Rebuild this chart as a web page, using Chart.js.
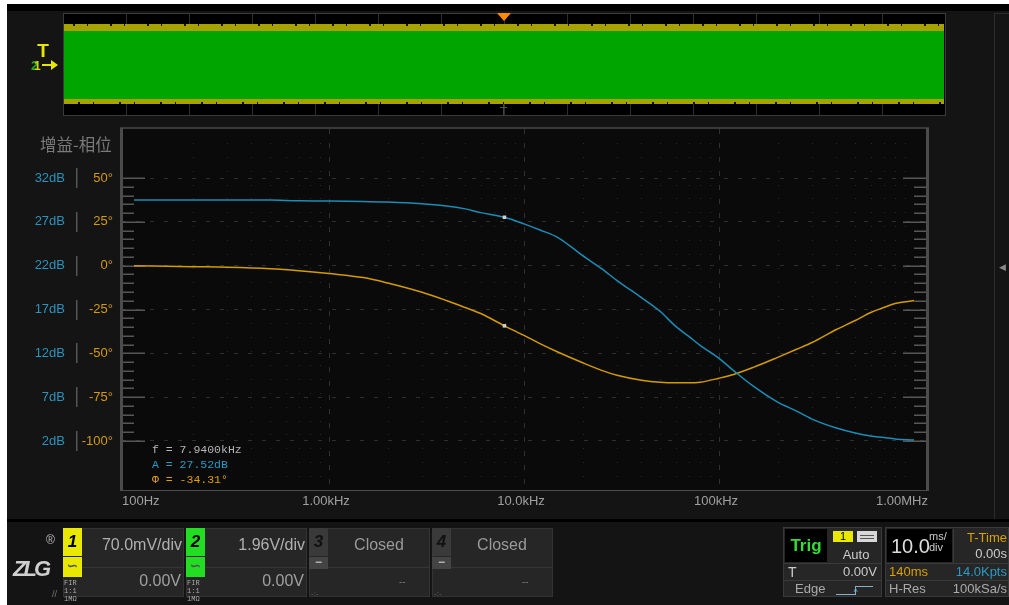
<!DOCTYPE html>
<html>
<head>
<meta charset="utf-8">
<script src="https://cdn.jsdelivr.net/npm/chart.js"></script>
<style>
body{margin:0;width:1009px;height:605px;overflow:hidden;position:relative;background:#141414;font-family:"Liberation Sans",Arial,sans-serif}
.a{position:absolute;box-sizing:border-box;white-space:nowrap}
#c{position:absolute;left:0;top:0}
</style>
</head>
<body>
<canvas id="c" width="1009" height="605"></canvas>
<script>
// gain / phase sweep
var freqs = [100, 200, 300, 500, 700, 1000, 1500, 2000, 3000, 4000, 5000, 6000, 7940,
  10000, 12000, 15000, 20000, 25000, 30000, 40000, 50000, 60000, 70000, 80000,
  100000, 120000, 150000, 200000, 250000, 300000, 400000, 500000, 600000, 700000, 800000, 1000000];
var gainDb = [29.50, 29.50, 29.50, 29.48, 29.40, 29.38, 29.33, 29.25, 29.05, 28.82, 28.48, 28.05, 27.52,
  26.77, 26.09, 25.18, 23.14, 21.66, 20.30, 18.36, 16.77, 15.07, 13.93, 12.91,
  11.43, 9.95, 8.25, 6.43, 5.41, 4.50, 3.48, 2.91, 2.57, 2.40, 2.23, 2.11];
var phaseDeg = [0, -0.57, -0.85, -1.70, -2.84, -4.5, -6.8, -9.9, -15.2, -19.9, -23.9, -27.3, -34.31,
  -39.8, -44.3, -49.4, -55.4, -59.7, -62.5, -65.3, -66.5, -66.8, -66.8, -66.5,
  -64.2, -61.9, -58.0, -52.3, -47.7, -43.8, -36.4, -31.3, -26.7, -23.9, -21.6, -19.9];
var markerFreq = 7940;

var gainTicks = [2, 7, 12, 17, 22, 27, 32];
var phaseTicks = [-100, -75, -50, -25, 0, 25, 50];
var xTicks = [100, 1000, 10000, 100000, 1000000];
var xTickLabels = ['100Hz', '1.00kHz', '10.0kHz', '100kHz', '1.00MHz'];

var BLUE = '#1c8db6', ORANGE = '#d39b00';

function el(x, y, w, h, css, txt) {
  var d = document.createElement('div');
  d.className = 'a';
  d.style.cssText = 'left:' + x + 'px;top:' + y + 'px;width:' + w + 'px;height:' + h + 'px;' + (css || '');
  if (txt != null) d.textContent = txt;
  document.body.appendChild(d);
  return d;
}

// scope decorations drawn around the plot area
var scopePlugin = {
  id: 'scope',
  beforeDraw: function(chart) {
    var a = chart.chartArea, ctx = chart.ctx;
    ctx.save();
    ctx.fillStyle = '#0a0a0a';
    ctx.fillRect(a.left, a.top, a.right - a.left, a.bottom - a.top);
    ctx.restore();
  },
  beforeDatasetsDraw: function(chart) {
    var a = chart.chartArea, ctx = chart.ctx, x = chart.scales.x, y = chart.scales.y;
    ctx.save();
    // dot grid
    ctx.fillStyle = '#2c2c2c';
    [100, 1000, 10000, 100000].forEach(function(d) {
      for (var m = 2; m <= 9; m++) {
        var px = Math.round(x.getPixelForValue(d * m));
        if (px >= a.right - 2) continue;
        for (var k = 1; k < 26; k++) {
          var py = Math.round(a.top + k * (a.bottom - a.top) / 26);
          ctx.fillRect(px, py, 1, 1);
        }
      }
    });
    // edge ticks
    ctx.strokeStyle = '#565656';
    ctx.lineWidth = 1.5;
    for (var v = -100; v <= 50; v += 5) {
      var py = Math.round(y.getPixelForValue(v)) + 0.25;
      var len = (v % 25 === 0) ? 23 : 12;
      ctx.beginPath();
      ctx.moveTo(a.left, py); ctx.lineTo(a.left + len, py);
      ctx.moveTo(a.right, py); ctx.lineTo(a.right - len, py);
      ctx.stroke();
    }
    ctx.restore();
  },
  afterDraw: function(chart) {
    var a = chart.chartArea, ctx = chart.ctx, x = chart.scales.x, yG = chart.scales.yG;
    ctx.save();
    ctx.fillStyle = '#3a3a3a';
    ctx.fillRect(120, a.top - 2, a.right - 117, 2);
    ctx.fillStyle = '#4b4b4b';
    ctx.fillRect(120, a.top - 1, 3, a.bottom - a.top + 2);
    ctx.fillRect(a.right, a.top - 1, 3, a.bottom - a.top + 2);
    ctx.fillRect(120, a.bottom, a.right - 117, 1);
    // separators between dB and degree columns
    ctx.fillStyle = '#555';
    gainTicks.forEach(function(v) {
      var py = Math.round(yG.getPixelForValue(v));
      ctx.fillRect(76, py - 10, 1.5, 20);
    });
    // frequency labels
    ctx.font = '13px "Liberation Sans"';
    ctx.fillStyle = '#a0a0a0';
    ctx.textBaseline = 'middle';
    xTicks.forEach(function(v, i) {
      var px = x.getPixelForValue(v);
      if (i === 0) { ctx.textAlign = 'left'; px = a.left; }
      else if (i === xTicks.length - 1) { ctx.textAlign = 'right'; px = a.right + 2; }
      else { ctx.textAlign = 'center'; px -= 3; }
      ctx.fillText(xTickLabels[i], px, 501);
    });
    ctx.restore();
  }
};

function pts(vals) {
  return freqs.map(function(f, i) { return {x: f, y: vals[i]}; });
}
function markerRadius(ctx) {
  return freqs[ctx.dataIndex] === markerFreq ? 2.5 : 0;
}

new Chart(document.getElementById('c'), {
  type: 'line',
  data: {
    datasets: [{
      label: '增益',
      data: pts(gainDb),
      yAxisID: 'yG',
      borderColor: BLUE,
      borderWidth: 1.5,
      cubicInterpolationMode: 'monotone',
      pointStyle: 'rect',
      pointRadius: markerRadius,
      pointBackgroundColor: '#d0d0d0',
      pointBorderWidth: 0
    }, {
      label: '相位',
      data: pts(phaseDeg),
      yAxisID: 'y',
      borderColor: ORANGE,
      borderWidth: 1.5,
      cubicInterpolationMode: 'monotone',
      pointStyle: 'rect',
      pointRadius: markerRadius,
      pointBackgroundColor: '#d0d0d0',
      pointBorderWidth: 0
    }]
  },
  options: {
    responsive: false,
    animation: false,
    devicePixelRatio: 1,
    layout: {padding: {left: 0, top: 129, right: 83, bottom: 115}},
    plugins: {legend: {display: false}, tooltip: {enabled: false}},
    scales: {
      x: {
        type: 'logarithmic',
        min: Math.pow(10, 2 - 12 / 195),
        max: Math.pow(10, 6 + 12 / 195),
        afterBuildTicks: function(s) { s.ticks = [1000, 10000, 100000].map(function(v) { return {value: v}; }); },
        ticks: {display: false},
        grid: {color: '#303030', drawTicks: false},
        border: {display: false, dash: [5, 9]}
      },
      y: {
        position: 'left',
        weight: 0,
        min: -127.95,
        max: 77.95,
        afterBuildTicks: function(s) { s.ticks = phaseTicks.map(function(v) { return {value: v}; }); },
        afterFit: function(s) { s.width = 45; },
        ticks: {color: '#d39a0a', font: {family: 'Liberation Sans', size: 13}, padding: 9,
          callback: function(v) { return v + '°'; }},
        grid: {color: '#2e2e2e', drawTicks: false},
        border: {display: false, dash: [4, 10]}
      },
      yG: {
        position: 'left',
        weight: 1,
        min: 22 - 127.95 / 5,
        max: 22 + 77.95 / 5,
        afterBuildTicks: function(s) { s.ticks = gainTicks.map(function(v) { return {value: v}; }); },
        afterFit: function(s) { s.width = 77; },
        ticks: {color: '#2b93bb', font: {family: 'Liberation Sans', size: 13}, padding: 4,
          callback: function(v) { return v + 'dB'; }},
        grid: {display: false},
        border: {display: false}
      }
    }
  },
  plugins: [scopePlugin]
});

// ---- screen frame ----
el(0, 0, 1009, 4, 'background:#fff');
el(0, 0, 7, 605, 'background:#fff');
el(7, 4, 1002, 7, 'background:#000');

// overview strip
el(63, 13, 883, 103, 'background:#000;border:1px solid #3a3a3a');
el(64, 14, 881, 101, 'background:repeating-linear-gradient(90deg,transparent 0 62px,#2e2e2e 62px 63px)');
el(64, 24, 880, 80, 'background:#a8a200');
el(64, 24, 880, 2, 'background:repeating-linear-gradient(90deg,transparent 0 9px,#111 9px 11px,transparent 11px 23px,#111 23px 24px,transparent 24px 37px)');
el(64, 102, 880, 2, 'background:repeating-linear-gradient(90deg,transparent 0 14px,#111 14px 16px,transparent 16px 29px,#111 29px 30px,transparent 30px 41px)');
el(64, 31, 880, 68, 'background:#00a500');
el(503, 104, 1, 11, 'background:#444');
el(500, 107, 7, 1, 'background:#555');
el(497, 13, 0, 0, 'border-left:7px solid transparent;border-right:7px solid transparent;border-top:8px solid #ff8a00');

// trigger marker
el(35, 42, 16, 18, 'color:#e6e600;font:bold 19px "Liberation Sans";line-height:18px;text-align:center', 'T');
el(31, 59, 10, 14, 'color:#22aa22;font:bold 13px "Liberation Sans";line-height:14px', '2');
el(34, 59, 10, 14, 'color:#d8d800;font:bold 12px "Liberation Sans";line-height:14px', '1');
el(42, 64, 10, 2, 'background:#e6e600');
el(51, 60, 0, 0, 'border-left:7px solid #e6e600;border-top:5px solid transparent;border-bottom:5px solid transparent');

// right side strip
el(994, 13, 15, 506, 'border-left:1px solid #2c2c2c;border-top:1px solid #2c2c2c');
el(999, 261, 8, 12, 'color:#888;font-size:9px;line-height:12px', '◀');

// plot title
el(40, 133, 80, 22, 'color:#7a7a7a;font:16.5px "Noto Sans CJK SC";line-height:22px', '增益-相位');

// marker readout
var mi = freqs.indexOf(markerFreq);
var mono = 'font:11.5px "Liberation Mono";line-height:15px;';
el(152, 442, 130, 15, mono + 'color:#b5b5b5', 'f = ' + (markerFreq / 1000).toFixed(4) + 'kHz');
el(152, 457, 130, 15, mono + 'color:#2a9ac4', 'A = ' + gainDb[mi].toFixed(2) + 'dB');
el(152, 472, 130, 15, mono + 'color:#e0a000', 'Φ = ' + phaseDeg[mi].toFixed(2) + '°');

// ---- bottom status bar ----
el(7, 519, 1002, 3, 'background:#000');
el(13, 556, 36, 26, 'color:#cfcfcf;font:italic bold 22px "Liberation Sans";letter-spacing:-3px;line-height:26px', 'ZLG');
el(46, 533, 14, 14, 'color:#bbb;font-size:12px;line-height:14px', '®');
el(52, 589, 10, 10, 'color:#777;font-size:9px;line-height:10px', '//');

var chans = [
  {n: '1', col: '#e8e800', x: 63, scale: '70.0mV/div', off: '0.00V'},
  {n: '2', col: '#22dd22', x: 186, scale: '1.96V/div', off: '0.00V'},
  {n: '3', col: null, x: 309},
  {n: '4', col: null, x: 432}
];
chans.forEach(function(c) {
  var x = c.x;
  el(x, 528, 121, 69, 'background:#262626;border:1px solid #333');
  el(x + 19, 567, 102, 1, 'background:#353535');
  if (c.col) {
    el(x, 528, 19, 28, 'background:' + c.col + ';color:#000;font:italic bold 17px "Liberation Sans";line-height:28px;text-align:center', c.n);
    el(x, 557, 19, 20, 'background:' + c.col + ';color:#555;font:bold 13px "Liberation Sans";line-height:18px;text-align:center', '∽');
    el(x + 1, 579, 18, 26, 'color:#aaa;font:7px "Liberation Mono";line-height:8px;white-space:pre', 'FIR\n1:1\n1MΩ');
    el(x + 19, 530, 100, 30, 'color:#b0b0b0;font-size:16px;line-height:30px;text-align:right', c.scale);
    el(x + 19, 568, 99, 26, 'color:#a0a0a0;font-size:16px;line-height:26px;text-align:right', c.off);
  } else {
    el(x, 528, 19, 28, 'background:#3a3a3a;color:#111;font:italic bold 17px "Liberation Sans";line-height:28px;text-align:center', c.n);
    el(x, 557, 19, 12, 'background:#444;color:#bbb;font:bold 12px "Liberation Sans";line-height:11px;text-align:center', '−');
    el(x + 19, 530, 102, 30, 'color:#9a9a9a;font-size:16px;line-height:30px;text-align:center', 'Closed');
    el(x + 90, 576, 20, 12, 'color:#777;font-size:10px;line-height:12px', '--');
    el(x + 2, 589, 20, 10, 'color:#666;font-size:8px;line-height:10px', '-:-');
  }
});

// trigger panel
el(783, 527, 99, 70, 'background:#262626;border:1px solid #3a3a3a');
el(785, 529, 42, 33, 'background:#000;color:#33dd33;font:bold 17px "Liberation Sans";line-height:33px;text-align:center', 'Trig');
el(833, 531, 20, 11, 'background:#e8e800;color:#000;font-size:11px;line-height:11px;text-align:center', '1');
el(857, 531, 20, 11, 'background:#d8d8d8');
el(860, 535, 14, 1, 'background:#555');
el(860, 538, 14, 1, 'background:#555');
el(833, 548, 46, 14, 'color:#ccc;font-size:13px;line-height:14px;text-align:center', 'Auto');
el(783, 563, 99, 1, 'background:#3a3a3a');
el(783, 580, 99, 1, 'background:#3a3a3a');
el(788, 564, 20, 16, 'color:#ccc;font-size:14px;line-height:16px', 'T');
el(830, 564, 47, 16, 'color:#ccc;font-size:13px;line-height:16px;text-align:right', '0.00V');
el(795, 581, 40, 16, 'color:#aaa;font-size:13px;line-height:16px', 'Edge');
el(836, 594, 19, 1, 'background:#8ab0c8');
el(855, 586, 1, 9, 'background:#8ab0c8');
el(855, 586, 18, 1, 'background:#8ab0c8');
el(850, 588, 11, 8, 'color:#6aa8d0;font-size:9px;line-height:8px;text-align:center', '^');

// timebase panel
el(885, 527, 124, 70, 'background:#262626;border:1px solid #3a3a3a');
el(887, 529, 65, 33, 'background:#000');
el(891, 531, 38, 30, 'color:#ddd;font-size:20px;line-height:30px', '10.0');
el(929, 530, 22, 12, 'color:#ccc;font-size:11px;line-height:12px', 'ms/');
el(929, 541, 22, 12, 'color:#ccc;font-size:11px;line-height:12px', 'div');
el(953, 529, 1, 34, 'background:#3a3a3a');
el(955, 530, 52, 15, 'color:#d9a000;font-size:13px;line-height:15px;text-align:right', 'T-Time');
el(955, 546, 52, 15, 'color:#ccc;font-size:13px;line-height:15px;text-align:right', '0.00s');
el(885, 563, 124, 1, 'background:#3a3a3a');
el(885, 580, 124, 1, 'background:#3a3a3a');
el(889, 564, 50, 16, 'color:#d9a000;font-size:13px;line-height:16px', '140ms');
el(945, 564, 62, 16, 'color:#2a9ac4;font-size:13px;line-height:16px;text-align:right', '14.0Kpts');
el(889, 581, 50, 16, 'color:#aaa;font-size:13px;line-height:16px', 'H-Res');
el(945, 581, 62, 16, 'color:#aaa;font-size:13px;line-height:16px;text-align:right', '100kSa/s');
</script>
</body>
</html>
